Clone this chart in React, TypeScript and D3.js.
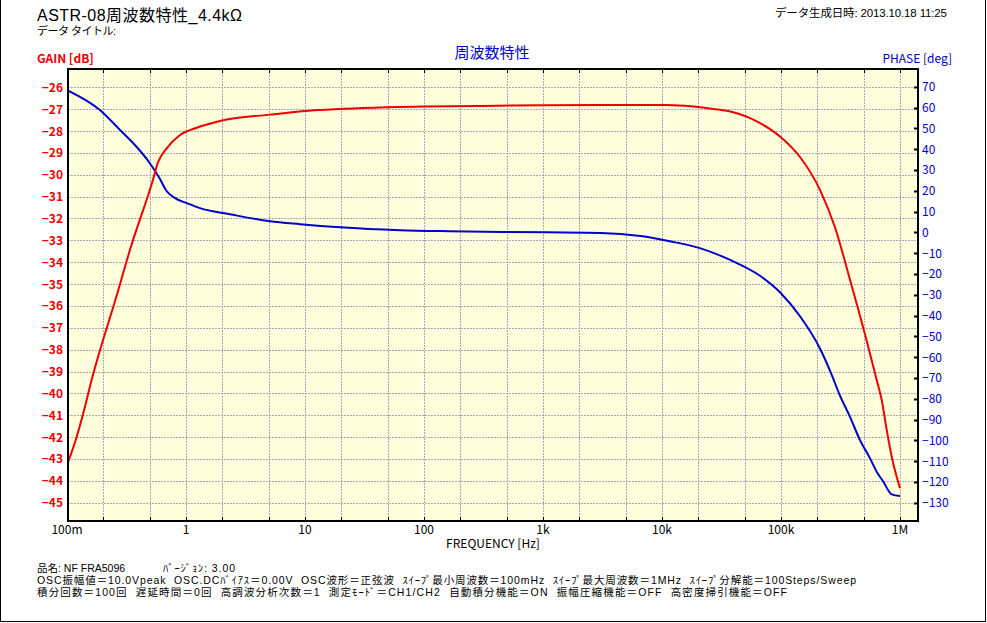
import React from 'react';
import * as d3 from 'd3';

// ---- data ----
const gainFreq = [0.1, 0.1207, 0.137, 0.161, 0.27, 0.338, 0.53, 0.578, 0.688, 0.891, 1.23, 1.93, 5.08, 10, 30, 100, 300, 1000, 3000, 11000, 18300, 27000, 39700, 51500, 66700, 98000, 145000, 213000, 284000, 380000, 508000, 637000, 702000, 773000, 852000, 1000000];
const gainDb = [-43.28, -41.98, -40.91, -39.39, -35.27, -33.44, -30.19, -29.47, -28.79, -28.18, -27.85, -27.54, -27.25, -27.08, -26.95, -26.88, -26.85, -26.82, -26.81, -26.81, -26.88, -26.99, -27.14, -27.34, -27.64, -28.25, -29.2, -30.7, -32.4, -34.8, -37.3, -39.39, -40.3, -41.67, -42.9, -44.34];

const phaseFreq = [0.1, 0.189, 0.279, 0.361, 0.497, 0.605, 0.679, 0.81, 1.02, 1.31, 2.34, 5.08, 9.1, 19.6, 62.9, 165, 1070, 3060, 6600, 11600, 20800, 37400, 67000, 98000, 145000, 213000, 260000, 313000, 380000, 461000, 560000, 637000, 724000, 852000, 1000000];
const phaseDeg = [68.4, 58.8, 49.2, 42.8, 33.2, 25.6, 20.2, 16.4, 14.0, 11.6, 8.7, 5.3, 3.9, 2.4, 1.0, 0.5, 0, -0.3, -1.8, -4.3, -7.6, -13.3, -21, -28.8, -40.5, -56, -67, -78.5, -88.7, -99.9, -108.7, -115.1, -119.9, -126, -126.8];

const freqTickValues = [0.1, 1, 10, 100, 1000, 10000, 100000, 1000000];
const freqTickLabels = ['100m', '1', '10', '100', '1k', '10k', '100k', '1M'];
const gainTicks = d3.range(-26, -46, -1);
const phaseTicks = d3.range(70, -140, -10);

const titleText = 'ASTR-08周波数特性_4.4kΩ';
const subTitleText = 'データ タイトル:';
const dateText = 'データ生成日時: 2013.10.18 11:25';
const chartTitle = '周波数特性';
const gainLabel = 'GAIN [dB]';
const phaseLabel = 'PHASE [deg]';
const xLabel = 'FREQUENCY [Hz]';
const footerName = '品名: NF FRA5096';
const footerVersion = 'ﾊﾞｰｼﾞｮﾝ: 3.00';
const footerLine2 = 'OSC振幅値＝10.0Vpeak  OSC.DCﾊﾞｲｱｽ＝0.00V  OSC波形＝正弦波  ｽｲｰﾌﾟ最小周波数＝100mHz  ｽｲｰﾌﾟ最大周波数＝1MHz  ｽｲｰﾌﾟ分解能＝100Steps/Sweep';
const footerLine3 = '積分回数＝100回  遅延時間＝0回  高調波分析次数＝1  測定ﾓｰﾄﾞ＝CH1/CH2  自動積分機能＝ON  振幅圧縮機能＝OFF  高密度掃引機能＝OFF';

const W = 987;
const H = 623;
const L = 68, R = 918, T = 69, B = 521;
const FONT = '"Noto Sans CJK JP", "Noto Sans", sans-serif';
const TIGHT_FONT = '"Liberation Sans", "Noto Sans CJK JP", sans-serif';

export default function App() {
  const x = d3.scaleLog().domain([0.1, 1e6]).range([67, 900]);
  const yG = d3.scaleLinear().domain([-45, -26]).range([502.7, 87.3]);
  const yP = d3.scaleLinear().domain([-130, 70]).range([502.7, 86.7]);

  const gridFreqs: number[] = [];
  for (let d = -1; d <= 6; d++) {
    [1, 2, 5].forEach((m) => {
      const v = m * Math.pow(10, d);
      if (v > 0.1 * 1.0001 && x(v) < R - 1) gridFreqs.push(v);
    });
  }

  const gainLine = d3
    .line<number>()
    .x((_, i) => x(gainFreq[i]))
    .y((v) => yG(v))
    .curve(d3.curveMonotoneX)(gainDb);
  const phaseLine = d3
    .line<number>()
    .x((_, i) => x(phaseFreq[i]))
    .y((v) => yP(v))
    .curve(d3.curveMonotoneX)(phaseDeg);

  const fmt = (v: number) => (v < 0 ? '−' + Math.abs(v) : String(v));

  return (
    <svg width={W} height={H} style={{ position: 'absolute', left: 0, top: 0, background: '#fff' }} fontFamily={FONT}>
      <defs>
        <clipPath id="plotClip">
          <rect x={L} y={T} width={R - L} height={B - T} />
        </clipPath>
      </defs>
      <rect x={0} y={0} width={W} height={H} fill="#fff" />
      {/* outer border */}
      <line x1={0.5} y1={0} x2={0.5} y2={622} stroke="#000" />
      <line x1={985.5} y1={0} x2={985.5} y2={622} stroke="#000" />
      <line x1={0} y1={621.5} x2={986} y2={621.5} stroke="#000" />

      {/* header */}
      <g fontFamily={TIGHT_FONT} fill="#000">
        <text x={37} y={21} fontSize={16} textLength={205}>{titleText}</text>
        <text x={37} y={35} fontSize={11} textLength={79} xmlSpace="preserve">{subTitleText}</text>
        <text x={947} y={17} fontSize={11.5} textAnchor="end" textLength={172}>{dateText}</text>
      </g>
      <text x={492} y={58} fontSize={15} fill="#0000cc" textAnchor="middle">{chartTitle}</text>
      <text x={37} y={63} fontSize={12} fontWeight="bold" fill="#ee0000">{gainLabel}</text>
      <text x={952} y={63} fontSize={12} fill="#0000cc" textAnchor="end">{phaseLabel}</text>

      {/* plot background */}
      <rect x={L} y={T} width={R - L} height={B - T} fill="#ffffdc" />

      {/* grid */}
      <g stroke="#a6a6bc" strokeWidth={1} strokeDasharray="2,1">
        {gridFreqs.map((f) => (
          <line key={'v' + f} x1={Math.round(x(f)) + 0.5} x2={Math.round(x(f)) + 0.5} y1={T} y2={B} />
        ))}
        {gainTicks.map((g) => (
          <line key={'h' + g} x1={L} x2={R} y1={Math.round(yG(g)) + 0.5} y2={Math.round(yG(g)) + 0.5} />
        ))}
      </g>

      {/* ticks */}
      <g stroke="#000" strokeWidth={1}>
        {gridFreqs.map((f) => (
          <g key={'t' + f}>
            <line x1={Math.round(x(f)) + 0.5} x2={Math.round(x(f)) + 0.5} y1={T} y2={T + 4} />
            <line x1={Math.round(x(f)) + 0.5} x2={Math.round(x(f)) + 0.5} y1={B - 4} y2={B} />
          </g>
        ))}
        {phaseTicks.map((p) => (
          <line key={'pt' + p} x1={R - 4} x2={R} y1={Math.round(yP(p)) + 0.5} y2={Math.round(yP(p)) + 0.5} strokeWidth={2} />
        ))}
      </g>

      {/* curves */}
      <g clipPath="url(#plotClip)" fill="none" strokeWidth={2} strokeLinejoin="round">
        <path d={phaseLine || ''} stroke="#0000cc" />
        <path d={gainLine || ''} stroke="#ee0000" />
      </g>

      {/* frame */}
      <rect x={L} y={T} width={R - L} height={B - T} fill="none" stroke="#000" strokeWidth={2} />

      {/* axis labels */}
      {gainTicks.map((g) => (
        <text key={'gl' + g} x={63} y={yG(g) + 4.5} fontSize={12} fontWeight="bold" fill="#ee0000" textAnchor="end">
          {fmt(g)}
        </text>
      ))}
      {phaseTicks.map((p) => (
        <text key={'pl' + p} x={922} y={yP(p) + 4.5} fontSize={12} fill="#0000cc">
          {fmt(p)}
        </text>
      ))}
      {freqTickValues.map((f, i) => (
        <text key={'fl' + f} x={x(f)} y={534} fontSize={12} fill="#000" textAnchor="middle">
          {freqTickLabels[i]}
        </text>
      ))}
      <text x={493} y={548} fontSize={12} fill="#000" textAnchor="middle">{xLabel}</text>

      {/* footer */}
      <g fontFamily={TIGHT_FONT} fontSize={10.5} fill="#000">
        <text x={37} y={571.5}>{footerName}</text>
        <text x={163} y={571.5} textLength={72}>{footerVersion}</text>
        <text x={37} y={583.5} textLength={819} xmlSpace="preserve">{footerLine2}</text>
        <text x={37} y={595.5} textLength={750} xmlSpace="preserve">{footerLine3}</text>
      </g>
    </svg>
  );
}
